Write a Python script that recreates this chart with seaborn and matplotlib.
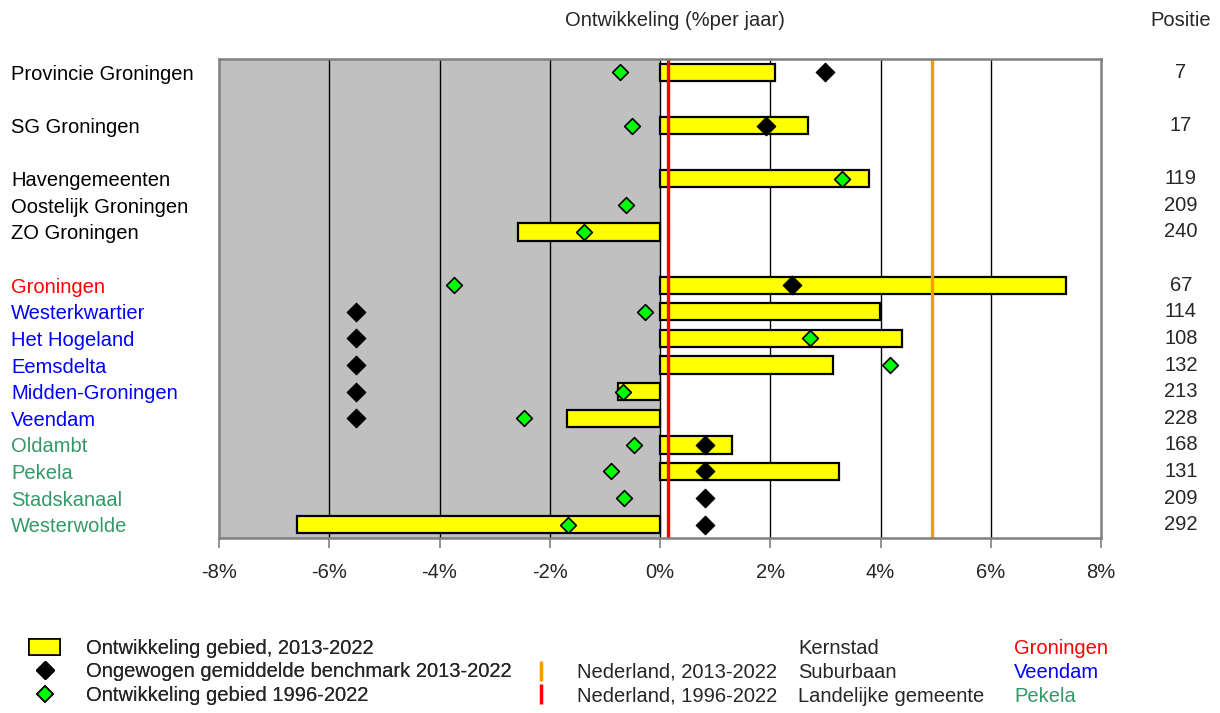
import numpy as np
import pandas as pd
import matplotlib.pyplot as plt
import seaborn as sns
from matplotlib.lines import Line2D
from matplotlib.patches import Patch
from matplotlib.transforms import blended_transform_factory

# regions top to bottom, group index controls the blank slots between groups
REGIONS = ["Provincie Groningen", "SG Groningen", "Havengemeenten", "Oostelijk Groningen",
           "ZO Groningen", "Groningen", "Westerkwartier", "Het Hogeland", "Eemsdelta",
           "Midden-Groningen", "Veendam", "Oldambt", "Pekela", "Stadskanaal", "Westerwolde"]
GROUPS = [0, 1, 2, 2, 2, 3, 3, 3, 3, 3, 3, 3, 3, 3, 3]
TYPES = ["area", "area", "area", "area", "area", "Kernstad", "Suburbaan", "Suburbaan",
         "Suburbaan", "Suburbaan", "Suburbaan", "Landelijk", "Landelijk", "Landelijk", "Landelijk"]

# % per jaar
TREND_2013 = [2.09, 2.69, 3.79, np.nan, -2.58, 7.37, 3.99, 4.39, 3.14, -0.76, -1.69, 1.30, 3.25, np.nan, -6.59]
BENCHMARK = [2.99, 1.92, np.nan, np.nan, np.nan, 2.40, -5.51, -5.51, -5.51, -5.51, -5.51, 0.81, 0.81, 0.81, 0.81]
TREND_1996 = [-0.72, -0.51, 3.31, -0.62, -1.38, -3.74, -0.27, 2.72, 4.18, -0.68, -2.46, -0.48, -0.89, -0.65, -1.66]
POSITIE = [7, 17, 119, 209, 240, 67, 114, 108, 132, 213, 228, 168, 131, 209, 292]

NL_2013 = 4.94
NL_1996 = 0.14

XTICKS = [-8, -6, -4, -2, 0, 2, 4, 6, 8]

TYPE_COLORS = {"area": "black", "Kernstad": "#FF0000", "Suburbaan": "#0000FF", "Landelijk": "#339966"}

df = pd.DataFrame({"region": REGIONS, "group": GROUPS, "type": TYPES,
                   "t2013": TREND_2013, "bench": BENCHMARK, "t1996": TREND_1996,
                   "positie": POSITIE})
df["slot"] = np.arange(len(df)) + df["group"]

sns.set_theme(style="white")
plt.rcParams["font.family"] = ["Liberation Sans", "DejaVu Sans"]
FS = 14.5

fig = plt.figure(figsize=(12.2, 7.13), dpi=100)
ax = fig.add_axes([219 / 1220, 1 - 538 / 713, (1101 - 219) / 1220, (538 - 59) / 713])

ax.axvspan(-8, 0, color="#C0C0C0", zorder=0, lw=0)
for v in XTICKS[1:-1]:
    ax.axvline(v, color="black", lw=1, zorder=0.6)

bars = df.dropna(subset=["t2013"])
sns.barplot(data=bars, x="t2013", y="slot", orient="y", native_scale=True,
            color="#FFFF00", saturation=1, edgecolor="black", linewidth=1.6,
            width=0.65, errorbar=None, ax=ax, zorder=3)

ax.axvline(NL_1996, color="#FF0000", lw=2.4, zorder=4)
ax.axvline(NL_2013, color="#FF9900", lw=2.4, zorder=4)

sns.scatterplot(data=df.dropna(subset=["bench"]), x="bench", y="slot", marker="D", s=90,
                color="black", edgecolor="black", linewidth=0.8, ax=ax, zorder=5, legend=False)
sns.scatterplot(data=df, x="t1996", y="slot", marker="D", s=64,
                color="#00FF00", edgecolor="black", linewidth=1.2, ax=ax, zorder=6, legend=False)

ax.set_xlim(-8, 8)
ax.set_ylim(17.5, -0.5)
ax.set_xlabel("")
ax.set_ylabel("")
ax.set_xticks(XTICKS, labels=[f"{v}%" for v in XTICKS])
ax.tick_params(axis="x", direction="out", length=7, width=1.2, color="#808080",
               pad=11, labelsize=FS, bottom=True)
ax.set_yticks(df["slot"], labels=df["region"])
ax.tick_params(axis="y", length=0, pad=(219 - 11) * 72 / 100, labelsize=FS)
for lab, t in zip(ax.get_yticklabels(), df["type"]):
    lab.set_horizontalalignment("left")
    lab.set_color(TYPE_COLORS[t])
for sp in ax.spines.values():
    sp.set_color("#808080")
    sp.set_linewidth(1.8)
    sp.set_zorder(7)

# position column on the right
tr = blended_transform_factory(fig.transFigure, ax.transData)
for s, p in zip(df["slot"], df["positie"]):
    ax.text(1181 / 1220, s, str(p), transform=tr, ha="center", va="center", fontsize=FS)
fig.text(1181 / 1220, 1 - 21 / 713, "Positie", ha="center", va="center", fontsize=FS)
fig.text(675 / 1220, 1 - 21 / 713, "Ontwikkeling (%per jaar)", ha="center", va="center", fontsize=FS)

# legend
h1 = [Patch(facecolor="#FFFF00", edgecolor="black", linewidth=1.2),
      Line2D([], [], ls="", marker="D", markersize=9, color="black"),
      Line2D([], [], ls="", marker="D", markersize=8, markerfacecolor="#00FF00",
             markeredgecolor="black", markeredgewidth=1.2)]
l1 = ["Ontwikkeling gebied, 2013-2022", "Ongewogen gemiddelde benchmark 2013-2022",
      "Ontwikkeling gebied 1996-2022"]
leg1 = fig.legend(h1, l1, loc="upper left", bbox_to_anchor=(29 / 1220, 1 - 639 / 713),
                  frameon=False, fontsize=FS, borderpad=0, borderaxespad=0,
                  handlelength=1.55, handleheight=0.8, handletextpad=1.3, labelspacing=0.22)
h2 = [Line2D([], [], ls="", marker="|", markersize=14, markeredgewidth=2.5, color="#FF9900"),
      Line2D([], [], ls="", marker="|", markersize=14, markeredgewidth=2.5, color="#FF0000")]
l2 = ["Nederland, 2013-2022", "Nederland, 1996-2022"]
leg2 = fig.legend(h2, l2, loc="upper left", bbox_to_anchor=(531 / 1220, 1 - 663 / 713),
                  frameon=False, fontsize=FS, borderpad=0, borderaxespad=0,
                  handlelength=1.0, handletextpad=1.3, labelspacing=0.22)
fig.add_artist(leg1)

for i, (k, name, t) in enumerate(zip(["Kernstad", "Suburbaan", "Landelijke gemeente"],
                                     ["Groningen", "Veendam", "Pekela"],
                                     ["Kernstad", "Suburbaan", "Landelijk"])):
    y = 1 - (648 + 24 * i) / 713
    fig.text(798 / 1220, y, k, ha="left", va="center", fontsize=FS)
    fig.text(1014 / 1220, y, name, ha="left", va="center", fontsize=FS, color=TYPE_COLORS[t])

fig.savefig("out.png", dpi=100)
